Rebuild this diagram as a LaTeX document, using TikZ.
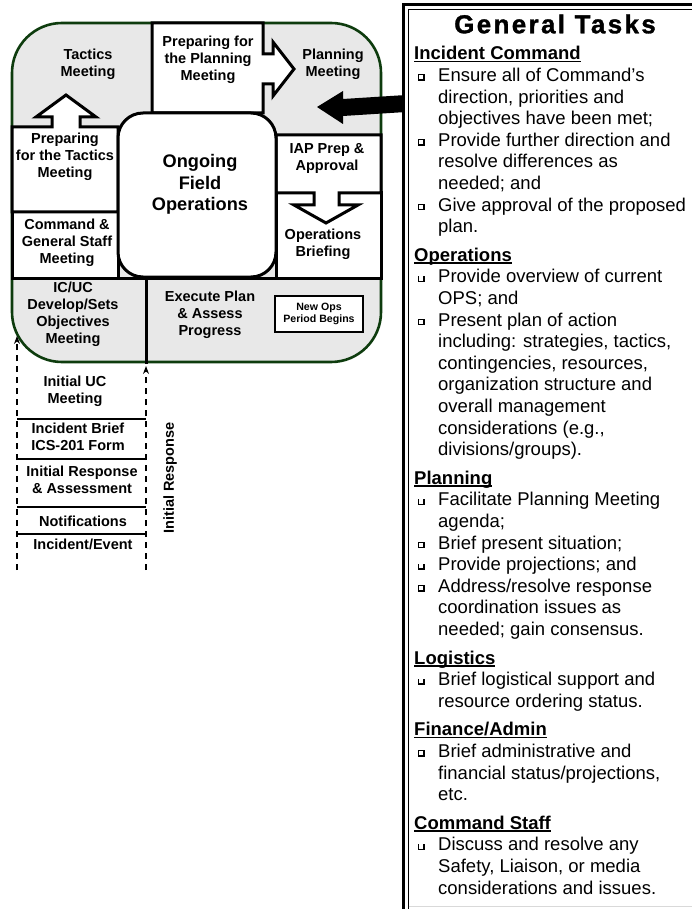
\documentclass[tikz,border=0pt]{standalone}
\usepackage{fontspec}
\setmainfont{Liberation Sans}
\newfontfamily\titlefont[LetterSpace=9,FakeBold=1.2]{Liberation Sans Bold}
\usetikzlibrary{arrows.meta}

\definecolor{rimgreen}{RGB}{14,60,14}
\definecolor{cellgray}{RGB}{232,232,232}

% hollow square bullet with a heavier lower/right edge
\newcommand\boxbullet{\raisebox{0.6pt}{\makebox[6.5pt][l]{\rule{6.5pt}{6.5pt}\hspace{-5.8pt}\raisebox{1.6pt}{\textcolor{white}{\rule{4.1pt}{4.2pt}}}}}}
\newcommand\itm{\makebox[24pt][l]{\hspace*{4pt}\boxbullet}}
\newcommand\cnt{\hspace*{24pt}}
\newcommand\hdline[1]{\setbox0\hbox{\bfseries #1}\rlap{\rule[-2.6pt]{\wd0}{1.4pt}}\box0}

\begin{document}
\begin{tikzpicture}[x=1pt,y=-1pt,
  lbl/.style={font=\bfseries\fontsize{14.5}{17}\selectfont, align=center, inner sep=0pt},
  biglbl/.style={font=\bfseries\fontsize{18.2}{21.5}\selectfont, align=center, inner sep=0pt},
  tinylbl/.style={font=\bfseries\fontsize{10.6}{12}\selectfont, align=center, inner sep=0pt},
  cell/.style={fill=white, draw=black, line width=3pt, line join=miter},
  rim/.style={fill=cellgray, draw=rimgreen, line width=2.6pt},
  sect/.style={anchor=north west, align=left, inner sep=0pt, font=\fontsize{18.5}{21.6}\selectfont},
  flow/.style={dash pattern=on 6pt off 5pt, line width=1.1pt, -{Stealth[length=8pt,width=6pt]}},
  tier/.style={line width=1.2pt}]
\useasboundingbox (0,0) rectangle (691,909);

% ---- planning cycle frame ----
\draw[rim, rounded corners=50pt] (12,23) rectangle (381,362);

% Operations Briefing and Command & General Staff cells
\path[cell] (276,193) rectangle (381,278);
\path[cell] (12,212) rectangle (118,278);
% Preparing for the Tactics Meeting, with its arrow up
\path[cell] (12,127) -- (52,127) -- (52,117) -- (36,117) -- (66,95) -- (96,117)
  -- (80,117) -- (80,127) -- (118,127) -- (118,212) -- (12,212) -- cycle;
% Preparing for the Planning Meeting, with its arrow right
\path[cell] (152,23) -- (263,23) -- (263,54) -- (273,54) -- (273,42) -- (294,69)
  -- (273,96) -- (273,84) -- (263,84) -- (263,113) -- (152,113) -- cycle;
% IAP Prep & Approval, with its arrow down
\path[cell] (276,135) -- (381,135) -- (381,193) -- (339,193) -- (339,205) -- (358,205)
  -- (326,223) -- (294,205) -- (314,205) -- (314,193) -- (276,193) -- cycle;

% centre box
\node[draw, line width=3pt, fill=white, rounded corners=25pt, minimum width=158pt,
  minimum height=164pt, inner sep=0pt] (ongoingBox) at (197,195) {};

% lower row dividers
\draw[line width=3pt] (12,278) -- (381,278);
\draw[line width=3pt] (146,278) -- (146,364);

\node[draw, line width=1.1pt, fill=white, minimum width=88pt, minimum height=36pt,
  inner sep=0pt, tinylbl] (newOps) at (319,314) {New Ops\\Period Begins};

% ---- cycle labels ----
\node[lbl] (tacticsLbl) at (88,64.5) {Tactics\\Meeting};
\node[lbl] (prepPlanLbl) at (208,60) {Preparing for\\the Planning\\Meeting};
\node[lbl] (planLbl) at (333,64.5) {Planning\\Meeting};
\node[lbl] (prepTacLbl) at (65,157) {Preparing\\for the Tactics\\Meeting};
\node[lbl] (iapLbl) at (327,158.5) {IAP Prep \&\\Approval};
\node[biglbl] (ongoingLbl) at (200,184.5) {Ongoing\\Field\\Operations};
\node[lbl] (cgsLbl) at (67,243) {Command \&\\General Staff\\Meeting};
\node[lbl] (opsBrLbl) at (323,244) {Operations\\Briefing};
\node[lbl] (icucLbl) at (73,314.5) {IC/UC\\Develop/Sets\\Objectives\\Meeting};
\node[lbl] (execLbl) at (210,315) {Execute Plan\\\& Assess\\Progress};

% ---- initial response ladder ----
\coordinate (lfoot) at (17,570);
\coordinate (ltop) at (17,336);
\coordinate (rfoot) at (146,570);
\coordinate (rtop) at (146,366);
\draw[flow] (lfoot) -- (ltop);
\draw[flow] (rfoot) -- (rtop);
\foreach \yy in {419,459,507,534} \draw[tier] (17,\yy) -- (146,\yy);

\node[lbl] (ucLbl) at (75,391) {Initial UC\\Meeting};
\node[lbl] (briefLbl) at (78,437) {Incident Brief\\ICS-201 Form};
\node[lbl] (respLbl) at (82,479.5) {Initial Response\\\& Assessment};
\node[lbl] (notifLbl) at (83,521) {Notifications};
\node[lbl] (eventLbl) at (83,544) {Incident/Event};
\node[lbl, rotate=90] (irLbl) at (170,478) {Initial Response};

% ---- pointer from the task panel ----
\fill (317,107) -- (343,91) -- (343,99) -- (406,95) -- (406,112) -- (343,116)
  -- (343,124) -- cycle;

% ---- task panel ----
\fill[white] (403.5,5) rectangle (700,915);
\draw[line width=3pt] (403.5,915) -- (403.5,5) -- (700,5);
\draw[line width=1pt] (408.5,915) -- (408.5,9.5) -- (700,9.5);
\draw[line width=1pt, black!15] (408.5,906) -- (700,906);

\node[font=\titlefont\fontsize{26}{30}\selectfont, inner sep=0pt] (title) at (555,24) {General Tasks};

\node[sect] (icSec) at (414,44.5) {\strut\hdline{Incident Command}\\
\itm Ensure all of Command’s\\
\cnt direction, priorities and\\
\cnt objectives have been met;\\
\itm Provide further direction and\\
\cnt resolve differences as\\
\cnt needed; and\\
\itm Give approval of the proposed\\
\cnt plan.};

\node[sect] (opsSec) at (414,245.9) {\strut\hdline{Operations}\\
\itm Provide overview of current\\
\cnt OPS; and\\
\itm Present plan of action\\
\cnt including: strategies, tactics,\\
\cnt contingencies, resources,\\
\cnt organization structure and\\
\cnt overall management\\
\cnt considerations (e.g.,\\
\cnt divisions/groups).};

\node[sect] (planSec) at (414,468.9) {\strut\hdline{Planning}\\
\itm Facilitate Planning Meeting\\
\cnt agenda;\\
\itm Brief present situation;\\
\itm Provide projections; and\\
\itm Address/resolve response\\
\cnt coordination issues as\\
\cnt needed; gain consensus.};

\node[sect] (logSec) at (414,648.7) {\strut\hdline{Logistics}\\
\itm Brief logistical support and\\
\cnt resource ordering status.};

\node[sect] (finSec) at (414,720.5) {\strut\hdline{Finance/Admin}\\
\itm Brief administrative and\\
\cnt financial status/projections,\\
\cnt etc.};

\node[sect] (cmdSec) at (414,813.9) {\strut\hdline{Command Staff}\\
\itm Discuss and resolve any\\
\cnt Safety, Liaison, or media\\
\cnt considerations and issues.};
\end{tikzpicture}
\end{document}
